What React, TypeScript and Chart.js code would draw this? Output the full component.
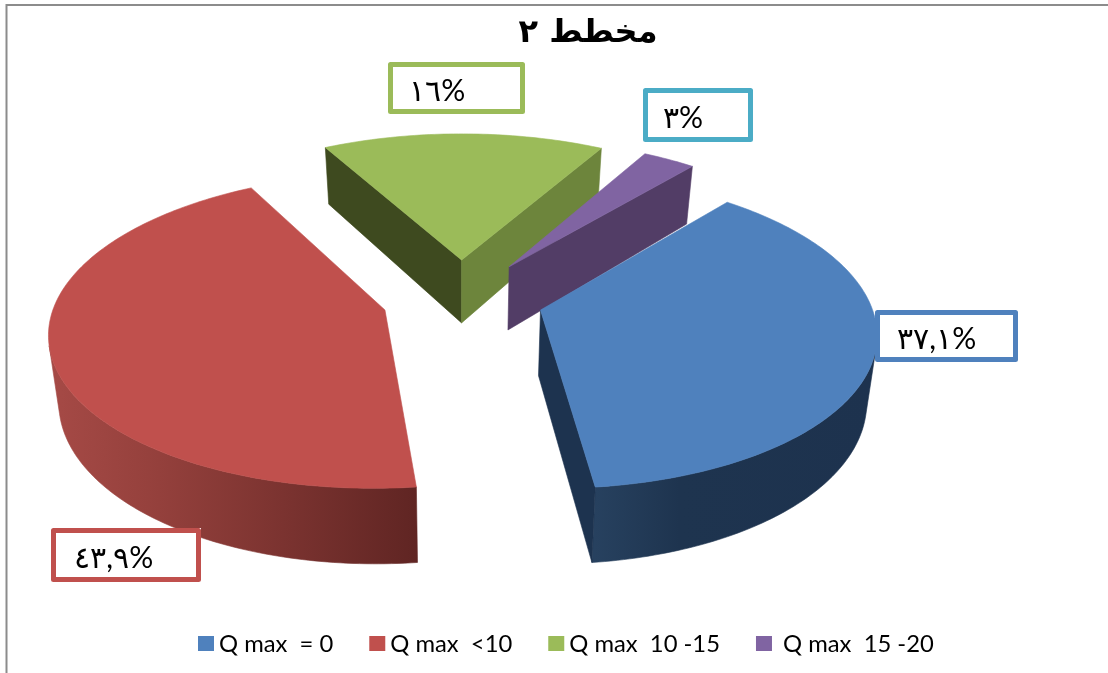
import React, { useEffect, useRef } from "react";
import { Chart, registerables } from "chart.js";

Chart.register(...registerables);

// Share of each Q max class, in percent.
const categories = ["Q max  = 0", "Q max  <10", "Q max  10 -15", " Q max  15 -20"];
const shares = [37.1, 43.9, 16, 3];
const shareLabels = ["٣٧,١%", "٤٣,٩%", "١٦%", "٣%"];

const topColors = ["#4f81bd", "#c0504d", "#9bbb59", "#8064a2"];
const startWallColors = ["#1d3350", "#7d2e2b", "#3e4a1f", "#523d66"];
const endWallColors = ["#1d334f", "#7d2e2b", "#6d853c", "#523d66"];
const rimLeftColors = ["#27415f", "#a64a46", "#3e4a1f", "#523d66"];
const rimMidColors = ["#1e344f", "#94403c", "#4e602c", "#523d66"];
const rimRightColors = ["#1d324e", "#602523", "#6d853c", "#523d66"];
const labelBorderColors = ["#4f81bd", "#c0504d", "#9bbb59", "#4bacc6"];

// Radial pull of each slice, as a fraction of the radius.
const explode = [0.25, 0.24, 0.265, 0.265];
const paintOrder = [2, 3, 1, 0];

// Outer left/top/right/bottom of each label box, and the text start.
const labelBoxes = [
  { l: 875, t: 310, r: 1018, b: 362, tx: 897 },
  { l: 51, t: 528, r: 201, b: 582, tx: 74 },
  { l: 388, t: 62, r: 525, b: 114, tx: 409 },
  { l: 643, t: 88, r: 753, b: 142, tx: 663 },
];

// Ground plane to screen: a single perspective shared by all slices.
const view = { cx: 461, cy: 299, ax: 329, ay: 152, persp: 0.13, height: 65, taper: 0.975 };

type Pt = [number, number];

function project(X: number, Z: number, down: boolean): Pt {
  const d = 1 + view.persp * Z;
  let x = view.cx + (view.ax * X) / d;
  let y = view.cy - (view.ay * Z) / d;
  if (down) {
    y += view.height / d;
    x = view.cx + (x - view.cx) * view.taper;
  }
  return [x, y];
}

function cross(a: Pt, b: Pt, c: Pt) {
  return (b[0] - a[0]) * (c[1] - b[1]) - (b[1] - a[1]) * (c[0] - b[0]);
}

function fillPoly(ctx: CanvasRenderingContext2D, pts: Pt[], fill: any) {
  ctx.beginPath();
  pts.forEach((p, i) => (i ? ctx.lineTo(p[0], p[1]) : ctx.moveTo(p[0], p[1])));
  ctx.closePath();
  ctx.fillStyle = fill;
  ctx.strokeStyle = fill;
  ctx.lineWidth = 0.6;
  ctx.fill();
  ctx.stroke();
}

const extrudedPie = {
  id: "extrudedPie",
  beforeDatasetDraw(chart: any) {
    const ctx: CanvasRenderingContext2D = chart.ctx;
    const arcs = chart.getDatasetMeta(0).data;
    for (const i of paintOrder) {
      const { startAngle, endAngle } = arcs[i].getProps(["startAngle", "endAngle"], true);
      const mid = (startAngle + endAngle) / 2;
      const ax = explode[i] * Math.cos(mid);
      const az = -explode[i] * Math.sin(mid);
      const rim = (t: number, down: boolean) =>
        project(ax + Math.cos(t), az - Math.sin(t), down);
      const apex = (down: boolean) => project(ax, az, down);

      const steps = Math.max(8, Math.ceil(((endAngle - startAngle) * 180) / Math.PI));
      const ts: number[] = [];
      for (let s = 0; s <= steps; s++) ts.push(startAngle + ((endAngle - startAngle) * s) / steps);

      // Curved outer wall: only the part turned towards the viewer.
      const front: number[] = [];
      for (let s = 0; s < steps; s++) {
        if (cross(rim(ts[s], false), rim(ts[s + 1], false), rim(ts[s + 1], true)) < 0) {
          if (!front.length) front.push(ts[s]);
          front.push(ts[s + 1]);
        }
      }
      if (front.length) {
        const upper = front.map((t) => rim(t, false));
        const lower = front.map((t) => rim(t, true)).reverse();
        const xs = upper.map((p) => p[0]);
        const g = ctx.createLinearGradient(Math.min(...xs), 0, Math.max(...xs), 0);
        g.addColorStop(0, rimLeftColors[i]);
        g.addColorStop(0.3, rimMidColors[i]);
        g.addColorStop(1, rimRightColors[i]);
        fillPoly(ctx, [...upper, ...lower], g);
      }

      // Flat cut walls along the two radii, when they face the viewer.
      const a0 = apex(false);
      const a1 = apex(true);
      const s0 = rim(startAngle, false);
      const s1 = rim(startAngle, true);
      const e0 = rim(endAngle, false);
      const e1 = rim(endAngle, true);
      if (cross(a0, s0, s1) < 0) fillPoly(ctx, [a0, s0, s1, a1], startWallColors[i]);
      if (cross(a0, e0, e1) > 0) fillPoly(ctx, [a0, e0, e1, a1], endWallColors[i]);

      // Top face.
      fillPoly(ctx, [a0, ...ts.map((t) => rim(t, false))], topColors[i]);
    }
    return false;
  },
};

const chartDecor = {
  id: "chartDecor",
  beforeDraw(chart: any) {
    const ctx: CanvasRenderingContext2D = chart.ctx;
    ctx.save();
    ctx.strokeStyle = "#8c8c8c";
    ctx.lineWidth = 2;
    ctx.beginPath();
    ctx.moveTo(6.5, 673);
    ctx.lineTo(6.5, 5);
    ctx.lineTo(1108, 5);
    ctx.stroke();
    ctx.restore();
  },
  afterDraw(chart: any) {
    const ctx: CanvasRenderingContext2D = chart.ctx;
    ctx.save();
    // Value boxes.
    labelBoxes.forEach((b, i) => {
      ctx.fillStyle = "#ffffff";
      ctx.fillRect(b.l, b.t, b.r - b.l, b.b - b.t);
      ctx.strokeStyle = labelBorderColors[i];
      ctx.lineWidth = 5;
      ctx.lineJoin = "round";
      ctx.strokeRect(b.l + 2.5, b.t + 2.5, b.r - b.l - 5, b.b - b.t - 5);
      ctx.fillStyle = "#000000";
      ctx.font = '30px Lato, "DejaVu Sans", sans-serif';
      ctx.textAlign = "left";
      ctx.textBaseline = "middle";
      ctx.direction = "ltr";
      ctx.fillText(shareLabels[i], b.tx, (b.t + b.b) / 2 + 3);
    });
    // Legend row.
    ctx.font = "23.8px Lato, sans-serif";
    ctx.textBaseline = "middle";
    let x = 198;
    chart.data.labels.forEach((label: string, i: number) => {
      ctx.fillStyle = topColors[i];
      ctx.fillRect(x, 636, 16, 15);
      ctx.fillStyle = "#000000";
      ctx.fillText(label, x + 21, 644);
      x += 21 + ctx.measureText(label).width + 36;
    });
    ctx.restore();
  },
};

export default function App() {
  const ref = useRef<HTMLCanvasElement>(null);
  useEffect(() => {
    const chart = new Chart(ref.current!, {
      type: "pie",
      data: {
        labels: categories,
        datasets: [{ data: shares, backgroundColor: topColors, borderWidth: 0 }],
      },
      options: {
        animation: false,
        responsive: false,
        rotation: 40,
        layout: { padding: { left: 68 } },
        events: [],
        plugins: {
          legend: { display: false },
          tooltip: { enabled: false },
          title: {
            display: true,
            text: "مخطط ٢",
            color: "#000000",
            font: { size: 32, weight: "bold", family: '"DejaVu Sans", sans-serif' },
            padding: { top: 14, bottom: 8 },
          },
        },
      },
      plugins: [extrudedPie, chartDecor],
    } as any);
    return () => chart.destroy();
  }, []);
  return (
    <div style={{ position: "fixed", left: 0, top: 0, width: 1108, height: 673, background: "#fff" }}>
      <canvas ref={ref} width={1108} height={673} style={{ display: "block" }} />
    </div>
  );
}
